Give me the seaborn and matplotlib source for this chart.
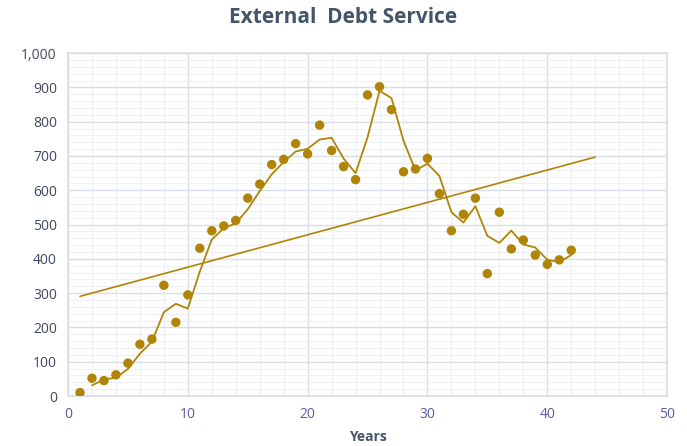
import numpy as np
import pandas as pd
import matplotlib
matplotlib.use('Agg')
import matplotlib.pyplot as plt
import seaborn as sns
from matplotlib.ticker import MultipleLocator, FuncFormatter

years = list(range(1, 43))
debt_service = [10, 52, 45, 62, 96, 151, 166, 323, 215, 295,
                431, 482, 496, 512, 577, 618, 675, 690, 736, 706,
                790, 716, 669, 631, 878, 902, 835, 654, 662, 693,
                590, 482, 530, 577, 357, 536, 429, 455, 411, 384,
                397, 425]

gold = '#B08405'

df = pd.DataFrame({'Years': years, 'debt': debt_service})
# 2-period moving average, like the spreadsheet trendline
df['ma'] = df['debt'].rolling(2).mean()

# linear trendline, forecast 2 periods forward
slope, intercept = np.polyfit(df['Years'], df['debt'], 1)
trend = pd.DataFrame({'Years': [1, 44]})
trend['y'] = intercept + slope * trend['Years']

sns.set_style('white')
plt.rcParams['font.family'] = ['Open Sans', 'DejaVu Sans']

fig = plt.figure(figsize=(6.87, 4.46), dpi=100)
ax = fig.add_axes([0.099, 0.112, 0.872, 0.769])

sns.lineplot(x='Years', y='y', data=trend, color=gold, linewidth=1.2, ax=ax)
sns.lineplot(x='Years', y='ma', data=df, color=gold, linewidth=1.3, ax=ax)
sns.scatterplot(x='Years', y='debt', data=df, color=gold, s=46, edgecolor='none', ax=ax, zorder=3)

ax.set_xlim(0, 50)
ax.set_ylim(0, 1000)
ax.xaxis.set_major_locator(MultipleLocator(10))
ax.xaxis.set_minor_locator(MultipleLocator(2))
ax.yaxis.set_major_locator(MultipleLocator(100))
ax.yaxis.set_minor_locator(MultipleLocator(20))
ax.yaxis.set_major_formatter(FuncFormatter(lambda v, p: format(int(v), ',')))
ax.grid(which='major', color='#D9DDE6', linewidth=1.0)
ax.grid(which='minor', color='#EEF0F4', linewidth=0.8)
ax.set_axisbelow(True)
for s in ax.spines.values():
    s.set_color('#D9DDE6')
    s.set_linewidth(1.2)
ax.tick_params(which='both', length=0)
ax.tick_params(axis='y', labelsize=10, colors='#404860', pad=8)
ax.tick_params(axis='x', labelsize=10, colors='#5B5BA8', pad=8)
ax.set_ylabel('')
ax.set_xlabel('Years', fontsize=10, fontweight='bold', color='#44546A', labelpad=6)
fig.suptitle('External  Debt Service', x=0.5, y=0.985, fontsize=15, fontweight='bold', color='#44546A')

plt.savefig('out.png', dpi=100)
